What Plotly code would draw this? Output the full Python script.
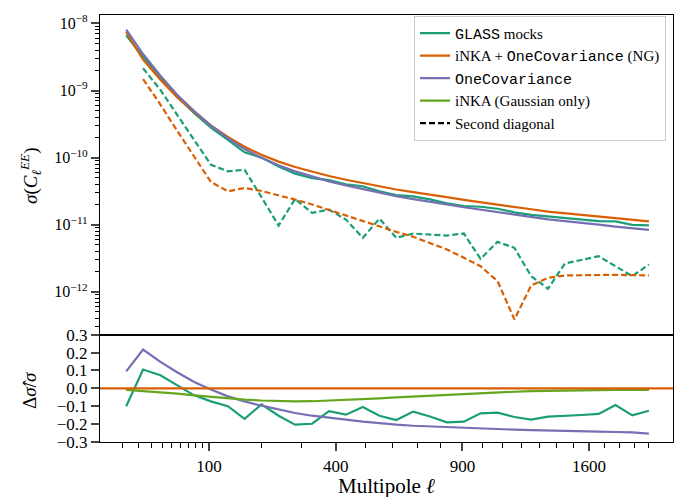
import numpy as np
import plotly.graph_objects as go

# ---------------- data ----------------
ell = [12, 23, 38, 56, 78, 103, 132, 164, 200, 240, 282, 329, 379, 433, 490, 550,
       614, 682, 753, 828, 907, 988, 1074, 1163, 1255, 1351, 1451, 1554, 1661, 1771, 1884, 2000]

sigma_inka_ng = [7.41e-9, 2.88e-9, 1.45e-9, 7.94e-10, 4.79e-10, 3.02e-10, 2.04e-10, 1.45e-10,
                 1.10e-10, 8.71e-11, 7.24e-11, 6.17e-11, 5.31e-11, 4.68e-11, 4.17e-11, 3.72e-11,
                 3.35e-11, 3.05e-11, 2.82e-11, 2.57e-11, 2.34e-11, 2.15e-11, 2.00e-11, 1.82e-11,
                 1.70e-11, 1.57e-11, 1.48e-11, 1.38e-11, 1.32e-11, 1.24e-11, 1.17e-11, 1.12e-11]

sigma_glass = [6.67e-9, 3.18e-9, 1.56e-9, 8.10e-10, 4.60e-10, 2.80e-10, 1.84e-10, 1.20e-10,
               1.00e-10, 7.38e-11, 5.77e-11, 4.95e-11, 4.63e-11, 3.99e-11, 3.74e-11, 3.15e-11,
               2.76e-11, 2.65e-11, 2.38e-11, 2.08e-11, 1.90e-11, 1.85e-11, 1.73e-11, 1.53e-11,
               1.40e-11, 1.32e-11, 1.25e-11, 1.17e-11, 1.13e-11, 1.12e-11, 9.93e-12, 9.80e-12]

sigma_onecov = [8.11e-9, 3.50e-9, 1.66e-9, 8.65e-10, 4.96e-10, 3.00e-10, 1.95e-10, 1.34e-10,
                9.93e-11, 7.67e-11, 6.24e-11, 5.23e-11, 4.43e-11, 3.86e-11, 3.39e-11, 2.99e-11,
                2.67e-11, 2.41e-11, 2.22e-11, 2.01e-11, 1.82e-11, 1.67e-11, 1.54e-11, 1.40e-11,
                1.30e-11, 1.20e-11, 1.13e-11, 1.05e-11, 1.00e-11, 9.37e-12, 8.82e-12, 8.37e-12]

# second diagonal (plotted from the second bin on)
diag2_glass = [2.15e-9, 1.02e-9, 4.35e-10, 1.85e-10, 7.83e-11, 6.24e-11, 6.61e-11, 2.57e-11,
               9.70e-12, 2.42e-11, 1.50e-11, 1.68e-11, 1.19e-11, 6.37e-12, 1.23e-11, 6.37e-12,
               7.38e-12, 7.13e-12, 6.89e-12, 7.38e-12, 3.10e-12, 5.55e-12, 4.52e-12, 1.71e-12,
               1.11e-12, 2.64e-12, 3.03e-12, 3.39e-12, 2.40e-12, 1.71e-12, 2.55e-12]

diag2_inka_ng = [1.48e-9, 6.17e-10, 2.51e-10, 1.05e-10, 4.34e-11, 3.14e-11, 3.53e-11, 3.18e-11,
                 2.75e-11, 2.37e-11, 2.00e-11, 1.66e-11, 1.36e-11, 1.14e-11, 9.27e-12, 7.82e-12,
                 6.61e-12, 5.37e-12, 4.27e-12, 3.21e-12, 2.40e-12, 1.44e-12, 3.87e-13, 1.24e-12,
                 1.61e-12, 1.75e-12, 1.77e-12, 1.79e-12, 1.79e-12, 1.77e-12, 1.75e-12]

# relative difference with respect to iNKA + OneCovariance (NG)
ratio_glass = [-0.100, 0.105, 0.073, 0.020, -0.039, -0.073, -0.100, -0.171, -0.090, -0.153,
               -0.203, -0.198, -0.128, -0.147, -0.104, -0.153, -0.177, -0.130, -0.157, -0.190,
               -0.186, -0.140, -0.136, -0.160, -0.175, -0.158, -0.155, -0.149, -0.143, -0.093,
               -0.151, -0.125]
ratio_onecov = [0.095, 0.217, 0.148, 0.090, 0.036, -0.007, -0.045, -0.073, -0.097, -0.119,
                -0.138, -0.153, -0.166, -0.175, -0.186, -0.196, -0.203, -0.209, -0.213, -0.218,
                -0.222, -0.225, -0.228, -0.231, -0.234, -0.237, -0.238, -0.240, -0.242, -0.244,
                -0.246, -0.253]
ratio_gauss = [-0.009, -0.015, -0.022, -0.030, -0.039, -0.048, -0.056, -0.063, -0.068, -0.071,
               -0.073, -0.072, -0.069, -0.065, -0.061, -0.056, -0.051, -0.046, -0.041, -0.036,
               -0.031, -0.026, -0.022, -0.019, -0.016, -0.014, -0.012, -0.011, -0.010, -0.009,
               -0.009, -0.009]
ratio_ref = 0.0

major_ell = [100, 400, 900, 1600]
minor_ell = [10, 20, 30, 40, 50, 60, 70, 80, 90, 200, 300, 500, 600, 700, 800, 1000, 1100,
             1200, 1300, 1400, 1500, 1700, 1800, 1900, 2000]
ytick_vals = [1e-12, 1e-11, 1e-10, 1e-9, 1e-8]
ytick_text = ["10<sup>−12</sup>", "10<sup>−11</sup>", "10<sup>−10</sup>", "10<sup>−9</sup>", "10<sup>−8</sup>"]
minor_sigma = [m * 10.0 ** e for e in range(-13, -7) for m in range(2, 10)]
rtick_vals = [-0.3, -0.2, -0.1, 0.0, 0.1, 0.2, 0.3]
rtick_text = ["−0.3", "−0.2", "−0.1", "0.0", "0.1", "0.2", "0.3"]

# ---------------- styling ----------------
C_GLASS = "#1b9e77"
C_NG = "#d95f02"
C_ONE = "#7570b3"
C_GAUSS = "#66a61e"
SERIF = "Liberation Serif"
MONO = "Liberation Mono"
LW = 2.2
DASH = "6px,3px"

x = np.sqrt(np.array(ell, dtype=float))   # square-root scaled multipole axis
x2 = x[1:]

fig = go.Figure()

# ---- top panel ----
fig.add_trace(go.Scatter(x=x, y=sigma_glass, mode="lines", line=dict(color=C_GLASS, width=LW),
                         name=f'<span style="font-family:{MONO}">GLASS</span> mocks',
                         xaxis="x", yaxis="y", legendrank=1))
fig.add_trace(go.Scatter(x=x, y=sigma_inka_ng, mode="lines", line=dict(color=C_NG, width=LW),
                         name=f'iNKA + <span style="font-family:{MONO}">OneCovariance</span> (NG)',
                         xaxis="x", yaxis="y", legendrank=2))
fig.add_trace(go.Scatter(x=x, y=sigma_onecov, mode="lines", line=dict(color=C_ONE, width=LW),
                         name=f'<span style="font-family:{MONO}">OneCovariance</span>',
                         xaxis="x", yaxis="y", legendrank=3))
fig.add_trace(go.Scatter(x=x2, y=diag2_glass, mode="lines",
                         line=dict(color=C_GLASS, width=LW, dash=DASH),
                         showlegend=False, xaxis="x", yaxis="y"))
fig.add_trace(go.Scatter(x=x2, y=diag2_inka_ng, mode="lines",
                         line=dict(color=C_NG, width=LW, dash=DASH),
                         showlegend=False, xaxis="x", yaxis="y"))
fig.add_trace(go.Scatter(x=[None], y=[None], mode="lines",
                         line=dict(color="black", width=LW, dash=DASH),
                         name="Second diagonal", xaxis="x", yaxis="y", legendrank=5))

# ---- bottom panel ----
fig.add_trace(go.Scatter(x=x, y=ratio_glass, mode="lines", line=dict(color=C_GLASS, width=LW),
                         showlegend=False, xaxis="x2", yaxis="y2"))
fig.add_trace(go.Scatter(x=x, y=ratio_onecov, mode="lines", line=dict(color=C_ONE, width=LW),
                         showlegend=False, xaxis="x2", yaxis="y2"))
fig.add_trace(go.Scatter(x=x, y=ratio_gauss, mode="lines", line=dict(color=C_GAUSS, width=LW),
                         name="iNKA (Gaussian only)", xaxis="x2", yaxis="y2", legendrank=4))
fig.add_shape(type="line", xref="x2 domain", yref="y2", x0=0, x1=1, y0=ratio_ref, y1=ratio_ref,
              line=dict(color=C_NG, width=LW), layer="above")

# invisible carriers so that the overlay (minor tick) axes get drawn
fig.add_trace(go.Scatter(x=[x[0]], y=[ratio_glass[0]], mode="markers", marker=dict(opacity=0),
                         xaxis="x3", yaxis="y2", showlegend=False, hoverinfo="skip"))
fig.add_trace(go.Scatter(x=[x[0]], y=[np.log10(sigma_glass[0])], mode="markers",
                         marker=dict(opacity=0), xaxis="x", yaxis="y3", showlegend=False,
                         hoverinfo="skip"))

xr = [1.397, 46.62]
yr = [-12.64, -7.874]
D_TOP = [0.2513, 1]
D_BOT = [0, 0.2513]
axcommon = dict(showline=True, linecolor="black", linewidth=1.2, mirror=True,
                showgrid=False, zeroline=False, automargin=False)

fig.update_layout(
    width=681, height=497,
    margin=dict(l=100, r=8, t=15, b=55, autoexpand=False),
    paper_bgcolor="white", plot_bgcolor="white",
    font=dict(family=SERIF, size=17, color="black"),
    showlegend=True,
    legend=dict(x=0.9878, y=0.998, xanchor="right", yanchor="top",
                bgcolor="rgba(255,255,255,0.9)", bordercolor="#cccccc", borderwidth=1,
                font=dict(family=SERIF, size=15), tracegroupgap=0),
    xaxis=dict(domain=[0, 1], anchor="y", range=xr, showticklabels=False, ticks="", **axcommon),
    yaxis=dict(domain=D_TOP, anchor="x", type="log", range=yr,
               tickmode="array", tickvals=ytick_vals, ticktext=ytick_text,
               ticks="outside", ticklen=8, tickwidth=2, tickfont=dict(size=16), **axcommon),
    # linear overlay (in log10 units) carrying the minor log ticks
    yaxis3=dict(domain=D_TOP, anchor="x", overlaying="y", side="left", range=yr,
                tickmode="array", tickvals=list(np.log10(minor_sigma)), showticklabels=False,
                ticks="outside", ticklen=4, tickwidth=1, tickcolor="black", showline=False,
                showgrid=False, zeroline=False, automargin=False),
    xaxis2=dict(domain=[0, 1], anchor="y2", range=xr, tickmode="array",
                tickvals=list(np.sqrt(major_ell)), ticktext=[str(v) for v in major_ell],
                ticks="outside", ticklen=8, tickwidth=2, tickfont=dict(size=17), **axcommon),
    xaxis3=dict(domain=[0, 1], anchor="y2", overlaying="x2", side="bottom", range=xr,
                tickmode="array", tickvals=list(np.sqrt(minor_ell)), showticklabels=False,
                ticks="outside", ticklen=5, tickwidth=1, tickcolor="black", showline=False,
                showgrid=False, zeroline=False, automargin=False),
    yaxis2=dict(domain=D_BOT, anchor="x2", range=[-0.3, 0.3], tickmode="array",
                tickvals=rtick_vals, ticktext=rtick_text, ticks="outside", ticklen=8,
                tickwidth=2, tickfont=dict(size=17), **axcommon),
    annotations=[
        dict(text="Multipole <i>ℓ</i>", xref="paper", yref="paper", x=0.5, y=-0.1023,
             xanchor="center", yanchor="middle", showarrow=False, font=dict(size=21)),
        dict(text="<i>σ</i>(<i>C</i><sub><i>ℓ</i></sub><sup><i>EE</i></sup>)", xref="paper",
             yref="paper", x=-0.1205, y=0.6253, xanchor="center", yanchor="middle",
             textangle=-90, showarrow=False, font=dict(size=19)),
        dict(text="Δ<i>σ̂</i>/<i>σ</i>", xref="paper", yref="paper", x=-0.1222, y=0.1218,
             xanchor="center", yanchor="middle", textangle=-90, showarrow=False,
             font=dict(size=19)),
    ],
)

fig.write_html("out.html", config={"displayModeBar": False},
               post_script="document.body.style.margin='0px';")
